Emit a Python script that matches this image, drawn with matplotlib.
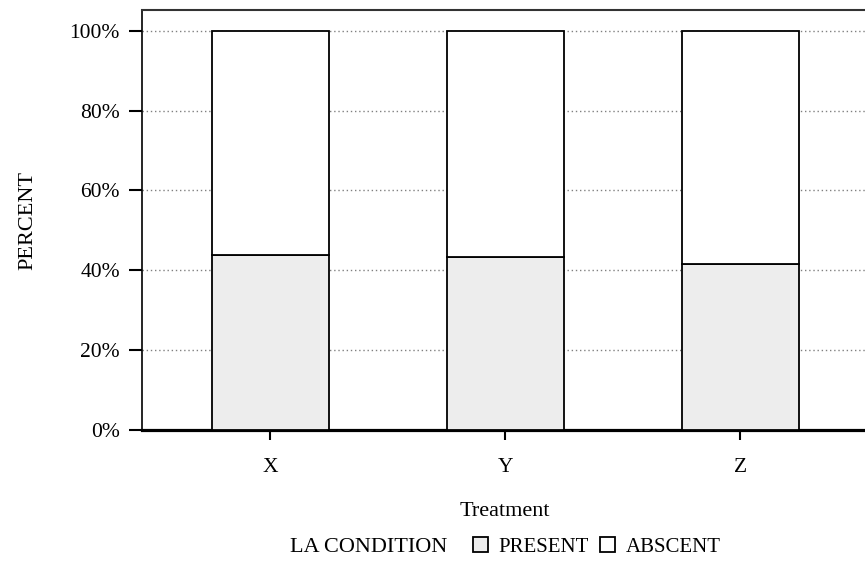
import matplotlib.pyplot as plt
import numpy as np
from matplotlib.patches import Patch

plt.rcParams['font.family'] = ['Liberation Serif', 'DejaVu Serif']

treatments = ["X", "Y", "Z"]
present = [43.75, 43.3, 41.7]
absent = [100 - p for p in present]
y_ticks = [0, 20, 40, 60, 80, 100]
y_tick_labels = ["0%", "20%", "40%", "60%", "80%", "100%"]

fig = plt.figure(figsize=(8.65, 5.62), dpi=100)
ax = fig.add_axes([141.5 / 865, 132 / 562, 727.6 / 865, 420 / 562])

x = np.arange(len(treatments))
ax.bar(x, present, width=0.5, color='#ededed', edgecolor='black', linewidth=1.3, zorder=3)
ax.bar(x, absent, width=0.5, bottom=present, color='white', edgecolor='black', linewidth=1.3, zorder=3)

ax.set_xlim(-0.548, 2.548)
ax.set_ylim(0, 105.2)
ax.set_xticks(x)
ax.set_xticklabels(treatments, fontsize=15.5)
ax.set_yticks(y_ticks)
ax.set_yticklabels(y_tick_labels, fontsize=15.5)
ax.tick_params(axis='y', length=9.5, width=1.5, pad=6)
ax.tick_params(axis='x', length=7.5, width=1.5, pad=13)

ax.grid(axis='y', linestyle=(0, (1, 2)), color='gray', linewidth=1, zorder=0)

ax.spines['bottom'].set_linewidth(2.3)
ax.spines['left'].set_linewidth(1.2)
ax.spines['top'].set_linewidth(1.5)
ax.spines['top'].set_color('#333333')
ax.spines['right'].set_visible(False)

ax.set_xlabel("Treatment", fontsize=16, labelpad=18)
ax.set_ylabel("PERCENT", fontsize=16, labelpad=23)

fig.text(290 / 865, 1 - 547 / 562, "LA CONDITION", fontsize=16, va='center', ha='left')
handles = [Patch(facecolor='#ededed', edgecolor='black', linewidth=1.3, label="PRESENT"),
           Patch(facecolor='white', edgecolor='black', linewidth=1.3, label="ABSCENT")]
fig.legend(handles=handles, loc='center left', bbox_to_anchor=(473 / 865, 1 - 547 / 562),
           ncol=2, frameon=False, fontsize=15, borderpad=0, borderaxespad=0,
           handlelength=0.72, handleheight=0.72, handletextpad=0.48, columnspacing=0.58)

fig.savefig('out.png', dpi=100)
